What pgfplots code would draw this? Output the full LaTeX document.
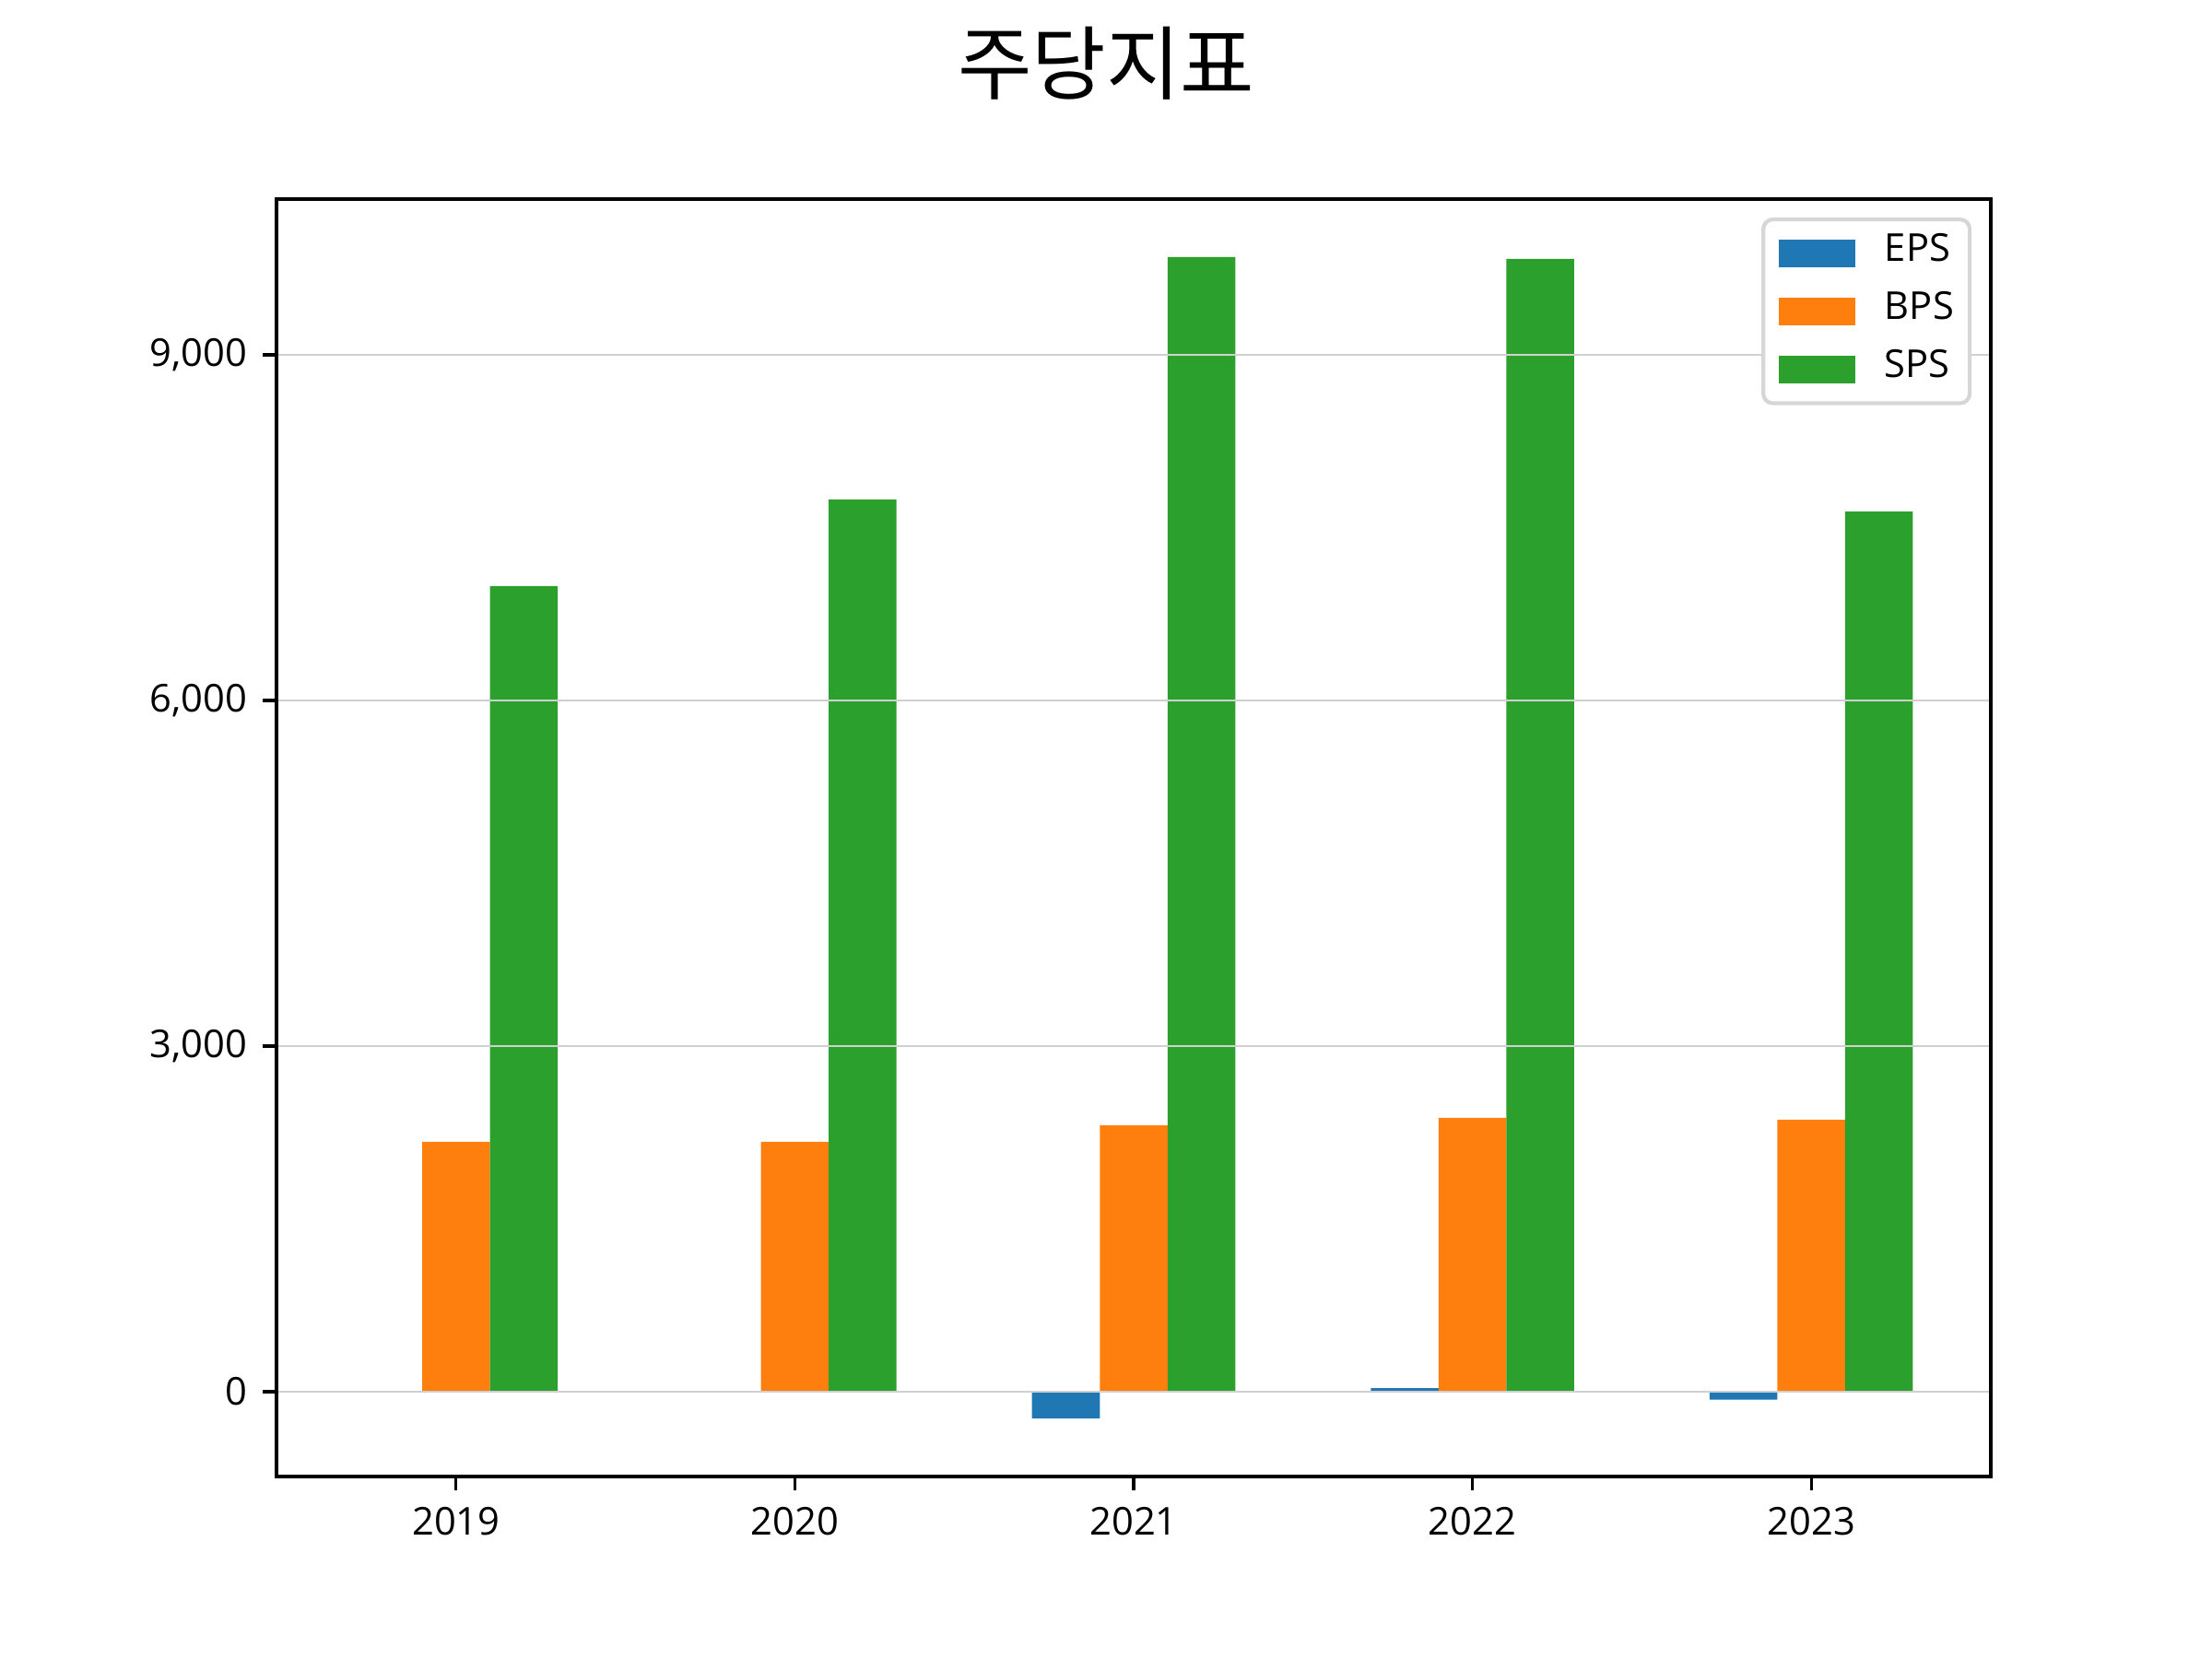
\documentclass[border=0pt]{standalone}
\usepackage{fontspec}
\setmainfont{Open Sans}
\newfontfamily\kr{Noto Sans CJK KR}
\usepackage{pgfplots}
\pgfplotsset{compat=1.18}
\definecolor{c1}{HTML}{1F77B4}
\definecolor{c2}{HTML}{FF7F0E}
\definecolor{c3}{HTML}{2CA02C}
\definecolor{gridc}{HTML}{D0D0D0}
\definecolor{legc}{HTML}{D6D6D6}
\begin{document}
\begin{tikzpicture}
\path[use as bounding box] (-57.6bp,-38.016bp) rectangle (403.2bp,307.584bp);
\begin{axis}[
  at={(0,0)}, anchor=south west, scale only axis,
  width=357.12bp, height=266.112bp,
  xmin=-0.53, xmax=4.53, ymin=-736, ymax=10352,
  xtick={0,1,2,3,4}, xticklabels={2019,2020,2021,2022,2023},
  ytick={0,3000,6000,9000},
  scaled y ticks=false,
  /pgf/number format/1000 sep={,},
  /pgf/number format/assume math mode=true,
  tick pos=left, tick align=outside,
  major tick length=2.8bp,
  every tick/.style={black, line width=0.64bp},
  axis line style={line width=0.64bp},
  ymajorgrids, grid style={gridc, line width=0.45bp},
  axis on top,
  tick label style={font=\fontsize{8bp}{9.6bp}\selectfont},
  xticklabel style={inner sep=0pt, anchor=north, yshift=-3.3bp},
  yticklabel style={inner sep=0pt, anchor=east, xshift=-3.1bp},
  ybar, bar width=0.2,
  legend style={at={(1,1)}, anchor=north east, xshift=-4bp, yshift=-3.84bp,
    draw=legc, line width=0.8bp, rounded corners=2bp,
    inner xsep=3.3bp, inner ysep=2.5bp,
    font=\fontsize{8bp}{9.6bp}\selectfont,
    row sep=3.0bp, column sep=6.1bp,
    nodes={inner sep=0pt, text height=6.2bp, text depth=2.9bp}},
  legend cell align=left,
  legend image code/.code={\fill[#1, sharp corners] (0bp,-2.9bp) rectangle (15.9bp,2.9bp);},
]
\addplot[fill=c1, draw=none, bar shift=-0.2] coordinates {(0,0) (1,0) (2,-232) (3,30) (4,-70)};
\addlegendentry{EPS}
\addplot[fill=c2, draw=none, bar shift=0] coordinates {(0,2168) (1,2168) (2,2312) (3,2376) (4,2360)};
\addlegendentry{BPS}
\addplot[fill=c3, draw=none, bar shift=0.2] coordinates {(0,6992) (1,7744) (2,9848) (3,9832) (4,7640)};
\addlegendentry{SPS}
\end{axis}
\node[inner sep=0pt, anchor=center] at (172.8bp,294.4bp) {\kr\fontsize{16.8bp}{20bp}\selectfont 주당지표};
\end{tikzpicture}
\end{document}
